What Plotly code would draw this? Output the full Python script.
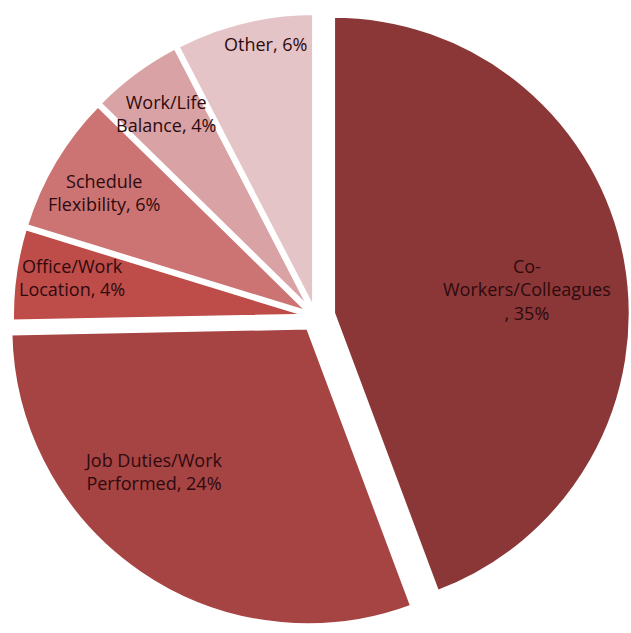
import plotly.graph_objects as go

# Reasons cited, share of respondents (%)
categories = [
    "Co-Workers/Colleagues",
    "Job Duties/Work Performed",
    "Office/Work Location",
    "Schedule Flexibility",
    "Work/Life Balance",
    "Other",
]
shares = [35, 24, 4, 6, 4, 6]

# Label text as it wraps inside each slice
label_lines = [
    ["Co-", "Workers/Colleagues", ", {v}%"],
    ["Job Duties/Work", "Performed, {v}%"],
    ["Office/Work", "Location, {v}%"],
    ["Schedule", "Flexibility, {v}%"],
    ["Work/Life", "Balance, {v}%"],
    ["Other, {v}%"],
]

# Styling
slice_colors = ["#8b3737", "#a64343", "#be4c49", "#cc7473", "#d9a3a5", "#e5c4c7"]
slice_pull = [0.06, 0.045, 0.02, 0.02, 0.02, 0.02]
label_xy = [(527, 290), (153, 471), (72, 278), (104, 192), (166, 113), (265, 44)]

W, H = 631, 633

fig = go.Figure(
    go.Pie(
        labels=categories,
        values=shares,
        sort=False,
        direction="clockwise",
        rotation=0,
        pull=slice_pull,
        marker=dict(colors=slice_colors, line=dict(color="white", width=4)),
        textinfo="none",
        hoverinfo="label+value",
        showlegend=False,
        domain=dict(x=[0, 1], y=[0, 1]),
    )
)

for lines, v, (px, py) in zip(label_lines, shares, label_xy):
    text = "<br>".join(s.format(v=v) for s in lines)
    fig.add_annotation(
        x=px / W,
        y=1 - py / H,
        xref="paper",
        yref="paper",
        text=text,
        showarrow=False,
        align="center",
        xanchor="center",
        yanchor="middle",
        font=dict(family="Open Sans", size=18, color="#2e0a0e"),
    )

fig.update_layout(
    width=W,
    height=H,
    margin=dict(l=0, r=0, t=0, b=0),
    paper_bgcolor="white",
    plot_bgcolor="white",
)

fig.write_html("out.html")
